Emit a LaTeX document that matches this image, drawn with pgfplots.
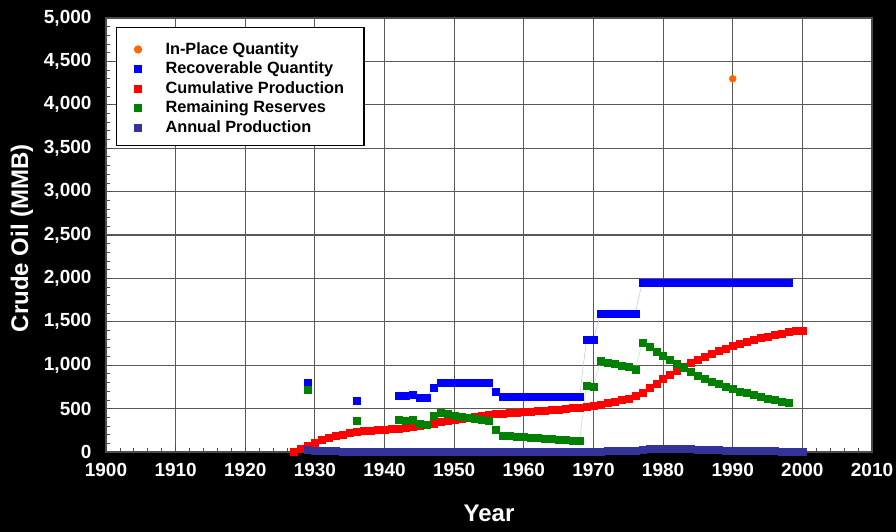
\documentclass[border=0pt]{standalone}
\usepackage{fontspec}
\setmainfont{Liberation Sans}
\usepackage{pgfplots}
\pgfplotsset{compat=1.18}
\definecolor{inplace}{RGB}{255,102,0}
\definecolor{annual}{RGB}{51,51,153}
\definecolor{recov}{RGB}{0,0,255}
\definecolor{cumprod}{RGB}{255,0,0}
\definecolor{remres}{RGB}{0,128,0}
\begin{document}
\begin{tikzpicture}
\fill[black] (0pt,0pt) rectangle (896pt,532pt);
\useasboundingbox (0pt,0pt) rectangle (896pt,532pt);
\begin{axis}[
  at={(106pt,80pt)}, anchor=south west, scale only axis,
  width=766pt, height=434pt,
  xmin=1900, xmax=2010, ymin=0, ymax=5000,
  xtick={1900,1910,...,2010}, ytick={0,500,...,5000},
  minor x tick num=4, minor y tick num=4,
  tick pos=left, tick align=inside,
  major tick length=6pt, minor tick length=4pt,
  tick style={black!70, line width=0.8pt},
  grid=major, major grid style={black!65, line width=1.1pt},
  axis line style={black!70, line width=1.2pt},
  axis background/.style={fill=white},
  clip=false,
  unbounded coords=jump,
  /pgf/number format/assume math mode=true,
  /pgf/number format/1000 sep={,},
  xticklabel style={/pgf/number format/1000 sep=, font=\fontsize{19}{22}\selectfont\bfseries, text=white, anchor=base, yshift=-25pt},
  yticklabel style={font=\fontsize{19}{22}\selectfont\bfseries, text=white, anchor=east, xshift=-11pt},
  xlabel={Year}, ylabel={Crude Oil (MMB)},
  xlabel style={at={(axis description cs:0.5,-0.161)}, anchor=base, font=\fontsize{24}{28}\selectfont\bfseries, text=white},
  ylabel style={at={(axis description cs:-0.1097,0.493)}, anchor=center, font=\fontsize{24}{28}\selectfont\bfseries, text=white},
  legend style={at={(rel axis cs:0.013,0.979)}, anchor=north west, draw=black, line width=1.2pt, fill=white, text=black,
    font=\fontsize{16.3}{19}\selectfont\bfseries, inner xsep=18pt, inner ysep=10pt, row sep=0pt,
    nodes={inner ysep=2pt, text height=14.5pt, text depth=1pt},
    /tikz/every odd column/.append style={column sep=22pt}},
  legend cell align=left,
  legend image code/.code={\draw[#1] plot coordinates {(0pt,-2pt)};},
]
\addplot[only marks, mark=*, mark size=3.5pt, color=inplace] coordinates {(1990,4300)};
\addlegendentry{In-Place Quantity}

\addplot[color=recov!25, line width=0.5pt, mark=square*, mark size=3.5pt, mark options={draw=recov, fill=recov, line width=0.2pt}] coordinates {
(1929,795)(1930,nan)(1936,588)(1937,nan)
(1942,645)(1943,645)(1944,664)(1945,632)(1946,632)(1947,745)(1948,795)(1949,795)(1950,795)(1951,795)(1952,795)(1953,795)(1954,795)(1955,795)
(1956,695)(1957,640)(1958,640)(1959,640)(1960,640)(1961,640)(1962,640)(1963,640)(1964,640)(1965,640)(1966,640)(1967,640)(1968,640)
(1969,1290)(1970,1290)(1971,1600)(1972,1600)(1973,1600)(1974,1600)(1975,1600)(1976,1600)
(1977,1950)(1978,1950)(1979,1950)(1980,1950)(1981,1950)(1982,1950)(1983,1950)(1984,1950)(1985,1950)(1986,1950)(1987,1950)(1988,1950)
(1989,1950)(1990,1950)(1991,1950)(1992,1950)(1993,1950)(1994,1950)(1995,1950)(1996,1950)(1997,1950)(1998,1950)};
\addlegendentry{Recoverable Quantity}

\addplot[color=cumprod!25, line width=0.5pt, mark=square*, mark size=3.5pt, mark options={draw=cumprod, fill=cumprod, line width=0.2pt}] coordinates {
(1927,0)(1928,38)(1929,77)(1930,112)(1931,143)(1932,166)(1933,188)(1934,204)(1935,220)(1936,232)(1937,242)(1938,250)(1939,256)
(1940,262)(1941,268)(1942,274)(1943,281)(1944,292)(1945,303)(1946,315)(1947,330)(1948,345)(1949,358)(1950,370)(1951,385)(1952,398)
(1953,410)(1954,420)(1955,430)(1956,440)(1957,446)(1958,452)(1959,458)(1960,464)(1961,470)(1962,476)(1963,482)(1964,488)(1965,494)
(1966,500)(1967,506)(1968,512)(1969,520)(1970,533)(1971,550)(1972,566)(1973,582)(1974,600)(1975,620)(1976,648)(1977,690)(1978,740)
(1979,790)(1980,840)(1981,888)(1982,935)(1983,980)(1984,1025)(1985,1065)(1986,1100)(1987,1135)(1988,1165)(1989,1195)(1990,1225)
(1991,1250)(1992,1268)(1993,1290)(1994,1315)(1995,1335)(1996,1352)(1997,1368)(1998,1382)(1999,1393)(2000,1400)};
\addlegendentry{Cumulative Production}

\addplot[color=remres!25, line width=0.5pt, mark=square*, mark size=3.5pt, mark options={draw=remres, fill=remres, line width=0.2pt}] coordinates {
(1929,718)(1930,nan)(1936,356)(1937,nan)
(1942,371)(1943,364)(1944,372)(1945,329)(1946,317)(1947,415)(1948,450)(1949,437)(1950,425)(1951,410)(1952,397)(1953,385)(1954,375)(1955,365)
(1956,255)(1957,194)(1958,188)(1959,182)(1960,176)(1961,170)(1962,164)(1963,158)(1964,152)(1965,146)(1966,140)(1967,134)(1968,128)
(1969,770)(1970,757)(1971,1050)(1972,1034)(1973,1018)(1974,1000)(1975,980)(1976,952)
(1977,1260)(1978,1210)(1979,1160)(1980,1110)(1981,1062)(1982,1015)(1983,970)(1984,925)(1985,885)(1986,850)(1987,815)(1988,785)
(1989,755)(1990,725)(1991,700)(1992,682)(1993,660)(1994,635)(1995,615)(1996,598)(1997,582)(1998,568)};
\addlegendentry{Remaining Reserves}

\addplot[color=annual!40, line width=0.5pt, mark=square*, mark size=3.5pt, mark options={draw=annual, fill=annual, line width=0.2pt}] coordinates {
(1929,25)(1930,20)(1931,16)(1932,13)(1933,11)(1934,9)(1935,7)(1936,6)(1937,5)(1938,5)(1939,5)(1940,5)(1941,5)(1942,5)(1943,6)
(1944,8)(1945,8)(1946,9)(1947,10)(1948,10)(1949,10)(1950,10)(1951,10)(1952,9)(1953,9)(1954,8)(1955,8)(1956,7)(1957,5)(1958,5)
(1959,5)(1960,5)(1961,5)(1962,5)(1963,5)(1964,5)(1965,5)(1966,5)(1967,5)(1968,6)(1969,7)(1970,9)(1971,10)(1972,11)(1973,12)
(1974,14)(1975,16)(1976,20)(1977,28)(1978,34)(1979,38)(1980,42)(1981,44)(1982,43)(1983,40)(1984,36)(1985,32)(1986,28)(1987,25)
(1988,22)(1989,20)(1990,18)(1991,16)(1992,15)(1993,14)(1994,13)(1995,12)(1996,11)(1997,10)(1998,9)(1999,8)(2000,7)};
\addlegendentry{Annual Production}
\end{axis}
\end{tikzpicture}
\end{document}
